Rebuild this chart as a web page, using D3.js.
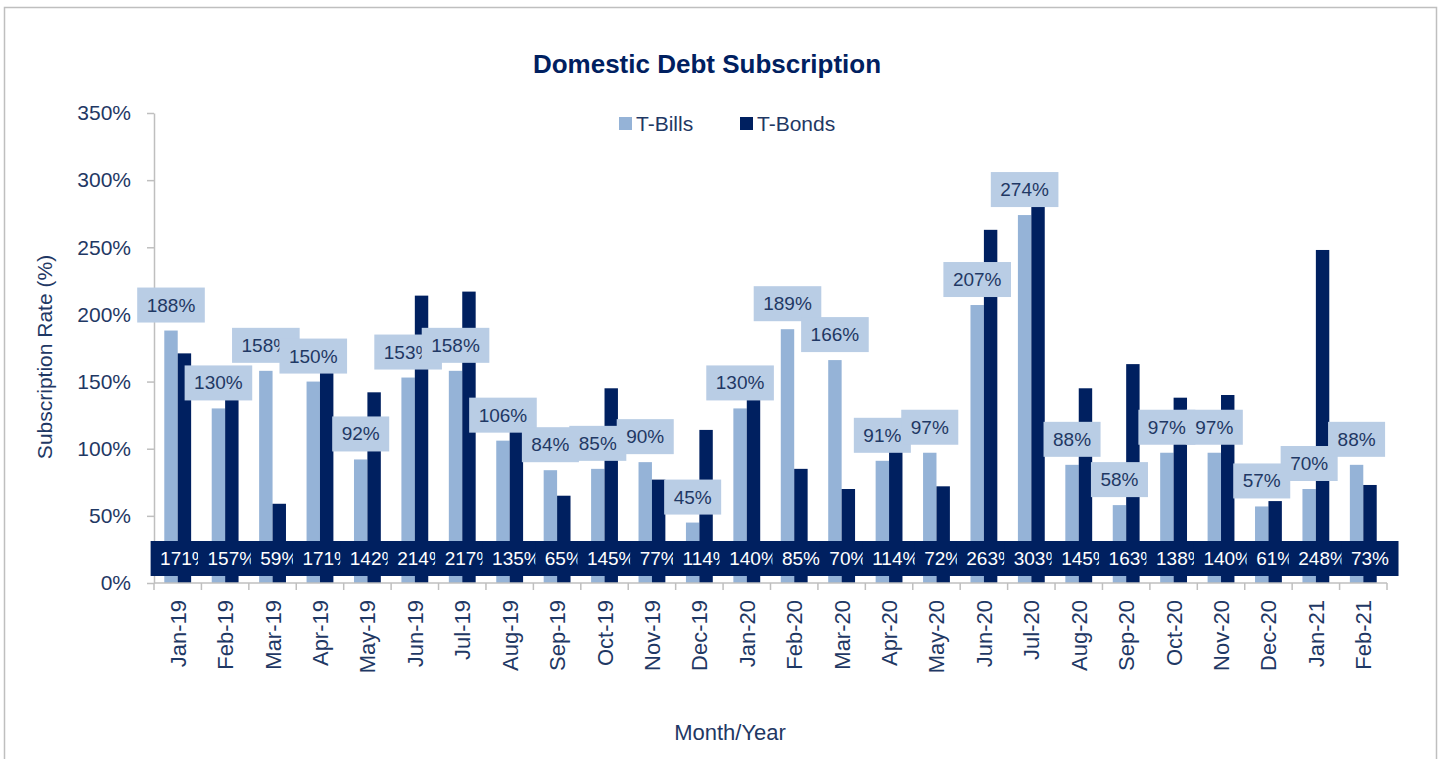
<!doctype html>
<html lang="en">
<head>
  <meta charset="utf-8">
  <title>Domestic Debt Subscription</title>
  <script src="https://cdnjs.cloudflare.com/ajax/libs/d3/7.8.5/d3.min.js"></script>
  <style>
    body { margin: 0; background: #fff; }
    text { font-family: "Liberation Sans", Arial, sans-serif; }
  </style>
</head>
<body>
  <svg id="chart" width="1443" height="759"></svg>
  <script>
    const months = ["Jan-19", "Feb-19", "Mar-19", "Apr-19", "May-19", "Jun-19", "Jul-19", "Aug-19",
      "Sep-19", "Oct-19", "Nov-19", "Dec-19", "Jan-20", "Feb-20", "Mar-20", "Apr-20", "May-20",
      "Jun-20", "Jul-20", "Aug-20", "Sep-20", "Oct-20", "Nov-20", "Dec-20", "Jan-21", "Feb-21"];
    const tBills = [188, 130, 158, 150, 92, 153, 158, 106, 84, 85, 90, 45, 130, 189, 166, 91, 97,
      207, 274, 88, 58, 97, 97, 57, 70, 88];
    const tBonds = [171, 157, 59, 171, 142, 214, 217, 135, 65, 145, 77, 114, 140, 85, 70, 114, 72,
      263, 303, 145, 163, 138, 140, 61, 248, 73];
    const yTicks = [0, 50, 100, 150, 200, 250, 300, 350];

    const navy = "#002060";
    const textNavy = "#1F3864";
    const lightBlue = "#95B3D7";
    const labelFill = "#B9CDE5";
    const axisGrey = "#BFBFBF";

    const svg = d3.select("#chart");

    // chart border
    svg.append("rect")
      .attr("x", 4.5).attr("y", 7.5)
      .attr("width", 1432).attr("height", 770)
      .attr("fill", "none").attr("stroke", axisGrey).attr("stroke-width", 1.5);

    const x = d3.scaleBand().domain(months).range([154, 1387]);
    const y = d3.scaleLinear().domain([0, 350]).range([583, 113]);
    const bw = x.bandwidth();
    const barW = bw * 0.283;

    // title
    svg.append("text")
      .attr("x", 707).attr("y", 73)
      .attr("text-anchor", "middle")
      .attr("font-size", 26).attr("font-weight", "bold")
      .attr("fill", navy)
      .text("Domestic Debt Subscription");

    // legend
    const legend = [{ name: "T-Bills", color: lightBlue, x: 619 }, { name: "T-Bonds", color: navy, x: 740 }];
    const lg = svg.append("g").selectAll("g").data(legend).enter().append("g");
    lg.append("rect")
      .attr("x", d => d.x).attr("y", 117)
      .attr("width", 13).attr("height", 13)
      .attr("fill", d => d.color);
    lg.append("text")
      .attr("x", d => d.x + 17).attr("y", 131)
      .attr("font-size", 21).attr("fill", textNavy)
      .text(d => d.name);

    // y axis
    const yAxis = svg.append("g")
      .attr("transform", "translate(154,0)")
      .call(d3.axisLeft(y).tickValues(yTicks).tickFormat(d => d + "%").tickSize(7).tickSizeOuter(0).tickPadding(16));
    yAxis.select(".domain").attr("stroke", axisGrey).attr("stroke-width", 1.5);
    yAxis.selectAll(".tick line").attr("stroke", axisGrey).attr("stroke-width", 1.5);
    yAxis.selectAll(".tick text")
      .attr("font-size", 21).attr("fill", textNavy)
      .style("font-family", "'Liberation Sans', Arial, sans-serif");

    svg.append("text")
      .attr("transform", "translate(52,357) rotate(-90)")
      .attr("text-anchor", "middle")
      .attr("font-size", 21).attr("fill", textNavy)
      .text("Subscription Rate (%)");

    // bars
    const groups = svg.append("g").selectAll("g").data(months).enter().append("g");
    groups.append("rect")
      .attr("x", (d) => x(d) + bw / 2 - barW)
      .attr("y", (d, i) => y(tBills[i]))
      .attr("width", barW)
      .attr("height", (d, i) => y(0) - y(tBills[i]))
      .attr("fill", lightBlue);
    groups.append("rect")
      .attr("x", (d) => x(d) + bw / 2)
      .attr("y", (d, i) => y(tBonds[i]))
      .attr("width", barW)
      .attr("height", (d, i) => y(0) - y(tBonds[i]))
      .attr("fill", navy);

    // x axis line and boundary ticks
    svg.append("line")
      .attr("x1", 154).attr("x2", 1387).attr("y1", y(0)).attr("y2", y(0))
      .attr("stroke", axisGrey).attr("stroke-width", 1.5);
    const bounds = months.map(m => x(m)).concat([x.range()[1]]);
    svg.append("g").selectAll("line").data(bounds).enter().append("line")
      .attr("x1", d => d).attr("x2", d => d)
      .attr("y1", y(0)).attr("y2", y(0) + 7)
      .attr("stroke", axisGrey).attr("stroke-width", 1.5);

    svg.append("g").selectAll("text").data(months).enter().append("text")
      .attr("transform", d => `translate(${x(d) + bw / 2 + 8},600) rotate(-90)`)
      .attr("text-anchor", "end")
      .attr("font-size", 22).attr("fill", textNavy)
      .text(d => d);

    svg.append("text")
      .attr("x", 730).attr("y", 740)
      .attr("text-anchor", "middle")
      .attr("font-size", 22).attr("fill", textNavy)
      .text("Month/Year");

    // data labels: boxes sized on the text, drawn in order so later ones cover earlier ones
    function addLabel(parent, cx, cy, str, fill, color) {
      const g = parent.append("g");
      const r = g.append("rect");
      const t = g.append("text")
        .attr("x", cx).attr("y", cy)
        .attr("text-anchor", "middle")
        .attr("dominant-baseline", "central")
        .attr("font-size", 19).attr("fill", color)
        .text(str);
      const w = t.node().getComputedTextLength() + 19;
      r.attr("x", cx - w / 2).attr("y", cy - 17.5)
        .attr("width", w).attr("height", 35)
        .attr("fill", fill);
    }

    const billLabels = svg.append("g");
    months.forEach((m, i) => {
      addLabel(billLabels, x(m) + bw / 2 - barW / 2, y(tBills[i]) - 8 - 17.5, tBills[i] + "%", labelFill, textNavy);
    });

    const bondLabels = svg.append("g");
    months.forEach((m, i) => {
      addLabel(bondLabels, x(m) + bw / 2 + barW / 2, 558.5, tBonds[i] + "%", navy, "#ffffff");
    });
  </script>
</body>
</html>
